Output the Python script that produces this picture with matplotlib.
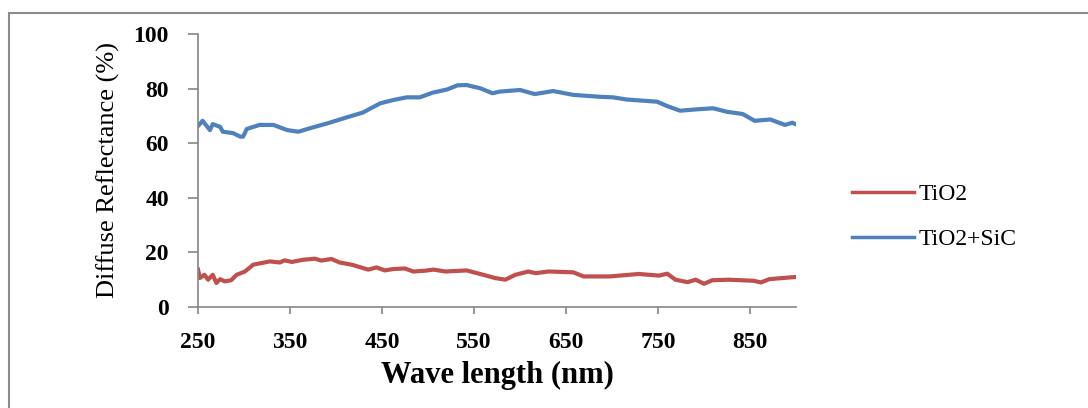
import matplotlib.pyplot as plt
from matplotlib.patches import Rectangle

tio2_nm = [250, 252, 257, 261, 266, 270, 274, 279, 286, 292, 301, 310, 319, 328,
           339, 344, 352, 364, 377, 384, 395, 404, 417, 435, 444, 453, 462, 475,
           484, 497, 506, 519, 542, 560, 573, 584, 595, 609, 617, 631, 658, 669,
           698, 729, 751, 760, 769, 782, 791, 800, 809, 827, 854, 862, 871, 885, 900]
tio2_r = [13.7, 10.6, 11.8, 10.0, 11.8, 8.8, 10.2, 9.4, 9.8, 11.8, 13.0, 15.5,
          16.1, 16.7, 16.3, 17.1, 16.5, 17.3, 17.7, 17.0, 17.6, 16.3, 15.5, 13.7,
          14.5, 13.4, 13.9, 14.1, 13.0, 13.3, 13.7, 13.0, 13.4, 11.8, 10.6, 10.0,
          11.8, 13.0, 12.4, 13.0, 12.7, 11.2, 11.2, 12.1, 11.5, 12.2, 10.0, 9.1,
          10.0, 8.5, 9.8, 10.0, 9.6, 9.0, 10.2, 10.6, 11.0]

sic_nm = [250, 255, 263, 266, 274, 277, 288, 296, 299, 303, 317, 332, 347, 359,
          375, 393, 412, 429, 448, 462, 477, 491, 505, 521, 532, 542, 557, 570,
          578, 600, 616, 636, 658, 687, 701, 716, 749, 760, 774, 792, 810, 825,
          842, 855, 872, 888, 896, 900]
sic_r = [66.3, 68.2, 64.8, 67.0, 66.0, 64.2, 63.7, 62.4, 62.4, 65.2, 66.7, 66.7,
         64.8, 64.2, 65.8, 67.5, 69.5, 71.2, 74.6, 75.8, 76.8, 76.8, 78.5, 79.7,
         81.2, 81.3, 80.1, 78.3, 78.9, 79.5, 78.0, 79.1, 77.7, 77.0, 76.8, 76.0,
         75.2, 73.6, 71.9, 72.4, 72.8, 71.5, 70.7, 68.2, 68.7, 66.7, 67.5, 66.9]

x_ticks = [250, 350, 450, 550, 650, 750, 850]
y_ticks = [0, 20, 40, 60, 80, 100]

serif = "Liberation Serif"
grey = "#868686"

fig = plt.figure(figsize=(10.88, 4.08), dpi=100)
fig.patches.append(Rectangle((9 / 1088, -0.1), 1.2, (408 - 13) / 408 + 0.1,
                             transform=fig.transFigure, fill=False,
                             edgecolor="#8c8c8c", linewidth=1.5))

ax = fig.add_axes([198 / 1088, 101 / 408, 598 / 1088, 273 / 408])
ax.plot(tio2_nm, tio2_r, color="#C0504D", lw=3, label="TiO2")
ax.plot(sic_nm, sic_r, color="#4F81BD", lw=3, label="TiO2+SiC")

ax.set_xlim(250, 900)
ax.set_ylim(0, 100)
ax.set_xticks(x_ticks)
ax.set_yticks(y_ticks)
for s in ["top", "right"]:
    ax.spines[s].set_visible(False)
for s in ["left", "bottom"]:
    ax.spines[s].set_color(grey)
    ax.spines[s].set_linewidth(1.2)
ax.tick_params(axis="both", colors=grey, width=1.2)
ax.tick_params(axis="y", length=7, pad=14)
ax.tick_params(axis="x", length=5, pad=13)
for lab in ax.get_xticklabels() + ax.get_yticklabels():
    lab.set_fontfamily(serif)
    lab.set_fontweight("bold")
    lab.set_fontsize(17)
    lab.set_color("black")

ax.set_xlabel("Wave length (nm)", fontfamily=serif, fontweight="bold",
              fontsize=22, labelpad=6)
ax.set_ylabel("Diffuse Reflectance (%)", fontfamily=serif, fontsize=19,
              labelpad=10)

leg = ax.legend(loc="center left", bbox_to_anchor=(843 / 1088, (408 - 217) / 408),
                bbox_transform=fig.transFigure, frameon=False,
                prop={"family": serif, "size": 17}, handlelength=2.6,
                handletextpad=0.2, labelspacing=1.0, borderaxespad=0)
for h in leg.get_lines():
    h.set_linewidth(2.5)

fig.savefig("out.png", dpi=100)
